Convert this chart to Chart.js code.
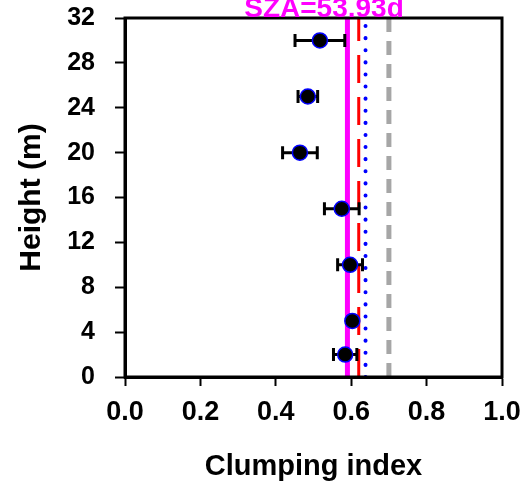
<!DOCTYPE html>
<html>
<head>
<meta charset="utf-8">
<script src="https://cdn.jsdelivr.net/npm/chart.js@4"></script>
<style>
  html, body { margin: 0; padding: 0; background: #fff; }
  #wrap { width: 526px; height: 494px; }
</style>
</head>
<body>
<div id="wrap"><canvas id="chart" width="526" height="494"></canvas></div>
<script>
// measured profile
const heights = [2, 5, 10, 15, 20, 25, 30];
const clumping = [0.584, 0.603, 0.597, 0.575, 0.464, 0.485, 0.517];
const clumpingErr = [0.031, 0.008, 0.033, 0.046, 0.046, 0.026, 0.066];

// reference values (vertical lines)
const refMagenta = 0.59;
const refRed = 0.62;
const refBlue = 0.638;
const refGray = 0.70;

const yTicks = [0, 4, 8, 12, 16, 20, 24, 28, 32];
const xTicks = [0.0, 0.2, 0.4, 0.6, 0.8, 1.0];

const fontFamily = '"Liberation Sans", Arial, sans-serif';

function vline(v) {
    return [{ x: v, y: yTicks[0] }, { x: v, y: yTicks[yTicks.length - 1] }];
}

const errorBars = {
    id: 'errorBars',
    beforeDatasetDraw(chart, args) {
        if (args.index !== 0) return;
        const ctx = chart.ctx;
        const xs = chart.scales.x;
        const ys = chart.scales.y;
        ctx.save();
        ctx.strokeStyle = '#000';
        ctx.lineWidth = 3;
        heights.forEach((h, i) => {
            const y = ys.getPixelForValue(h);
            const x0 = xs.getPixelForValue(clumping[i] - clumpingErr[i]);
            const x1 = xs.getPixelForValue(clumping[i] + clumpingErr[i]);
            ctx.beginPath();
            ctx.moveTo(x0, y); ctx.lineTo(x1, y);
            ctx.moveTo(x0, y - 6.5); ctx.lineTo(x0, y + 6.5);
            ctx.moveTo(x1, y - 6.5); ctx.lineTo(x1, y + 6.5);
            ctx.stroke();
        });
        ctx.restore();
    }
};

const frame = {
    id: 'frame',
    afterDraw(chart) {
        const { ctx, chartArea } = chart;
        ctx.save();
        ctx.strokeStyle = '#000';
        ctx.lineWidth = 3;
        ctx.strokeRect(chartArea.left, chartArea.top, chartArea.right - chartArea.left, chartArea.bottom - chartArea.top);
        ctx.font = 'bold 28px ' + fontFamily;
        ctx.fillStyle = '#ff00ff';
        ctx.textAlign = 'center';
        ctx.textBaseline = 'alphabetic';
        ctx.fillText('SZA=53.93d', 324, 16.5);
        ctx.restore();
    }
};

new Chart(document.getElementById('chart').getContext('2d'), {
    type: 'scatter',
    data: {
        datasets: [
            {
                data: heights.map((h, i) => ({ x: clumping[i], y: h })),
                backgroundColor: '#000',
                borderColor: '#0000ff',
                borderWidth: 1.5,
                pointRadius: 7.5,
                order: 0,
            },
            {
                type: 'line',
                data: vline(refGray),
                borderColor: '#a6a6a6',
                borderWidth: 5,
                borderDash: [14, 9],
                pointRadius: 0,
                order: 4,
            },
            {
                type: 'line',
                data: vline(refBlue),
                borderColor: '#0000ff',
                borderWidth: 4,
                borderDash: [0.1, 12],
                borderCapStyle: 'round',
                pointRadius: 0,
                order: 3,
            },
            {
                type: 'line',
                data: vline(refRed),
                borderColor: '#ff0000',
                borderWidth: 3,
                borderDash: [28, 14],
                pointRadius: 0,
                order: 2,
            },
            {
                type: 'line',
                data: vline(refMagenta),
                borderColor: '#ff00ff',
                borderWidth: 5,
                pointRadius: 0,
                order: 1,
            },
        ],
    },
    options: {
        responsive: false,
        animation: false,
        layout: { padding: { top: 18, right: 24, left: 0, bottom: 0 } },
        plugins: { legend: { display: false }, tooltip: { enabled: false } },
        scales: {
            x: {
                type: 'linear',
                min: xTicks[0],
                max: xTicks[xTicks.length - 1],
                afterFit: (scale) => {
                    scale.height = 117;
                    scale.paddingLeft = 0;
                    scale.paddingRight = 0;
                },
                afterBuildTicks: (scale) => { scale.ticks = xTicks.map(v => ({ value: v })); },
                border: { color: '#000', width: 3 },
                grid: { drawOnChartArea: false, drawTicks: true, tickLength: 9, tickColor: '#000', tickWidth: 2 },
                ticks: {
                    padding: 10,
                    color: '#000',
                    font: { family: fontFamily, size: 27, weight: 'bold' },
                    callback: (v) => Number(v).toFixed(1),
                },
                title: {
                    display: true,
                    text: 'Clumping index',
                    color: '#000',
                    font: { family: fontFamily, size: 29, weight: 'bold' },
                    padding: { top: 0, bottom: 10 },
                },
            },
            y: {
                type: 'linear',
                min: yTicks[0],
                max: yTicks[yTicks.length - 1],
                afterFit: (scale) => {
                    scale.width = 125;
                    scale.paddingTop = 0;
                    scale.paddingBottom = 0;
                },
                afterBuildTicks: (scale) => { scale.ticks = yTicks.map(v => ({ value: v })); },
                border: { color: '#000', width: 3 },
                grid: { drawOnChartArea: false, drawTicks: true, tickLength: 10, tickColor: '#000', tickWidth: 2 },
                ticks: {
                    padding: 20,
                    color: '#000',
                    font: { family: fontFamily, size: 25, weight: 'bold' },
                },
                title: {
                    display: true,
                    text: 'Height (m)',
                    color: '#000',
                    font: { family: fontFamily, size: 30, weight: 'bold' },
                    padding: { top: 14, bottom: 0 },
                },
            },
        },
    },
    plugins: [errorBars, frame],
});
</script>
</body>
</html>
